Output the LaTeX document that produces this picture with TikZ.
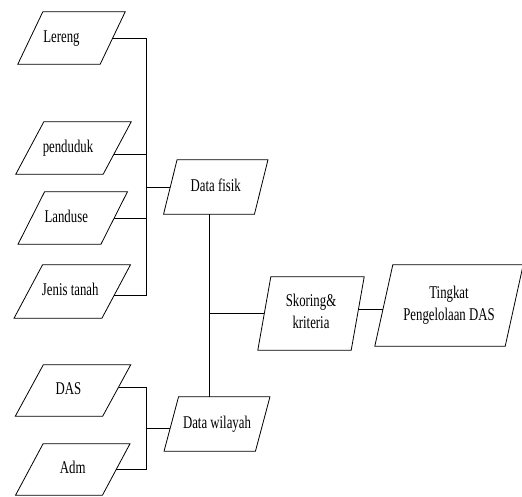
\documentclass[tikz,border=0pt]{standalone}
\usepackage{graphicx}
\usepackage{fontspec}
\setmainfont{Liberation Serif}
\usetikzlibrary{calc}
\newcommand\paraTxt[1]{\scalebox{1}[1.4]{\begin{tabular}{@{}c@{}}#1\end{tabular}}}
\newcommand\drawPara[2]{\draw[shapeline] ([xshift=#2pt/2]#1.north west) -- ([xshift=#2pt/2]#1.north east) -- ([xshift=-#2pt/2]#1.south east) -- ([xshift=-#2pt/2]#1.south west) -- cycle;}
\tikzset{
  box/.style={draw=none, inner sep=0pt, font=\fontsize{12.8}{15.7}\selectfont},
  shapeline/.style={line width=0.8pt, line join=miter},
  conn/.style={line width=0.8pt}
}
\begin{document}
\begin{tikzpicture}[x=1pt,y=-1pt]
\useasboundingbox (0,0) rectangle (522,496);
% left input boxes
\node[box, minimum width=82pt, minimum height=52pt] (ler) at (71.5,38) {\paraTxt{Lereng\hspace*{20pt}}};
\node[box, minimum width=87pt, minimum height=52pt] (pen) at (73.5,148) {\paraTxt{penduduk\hspace*{11pt}}};
\node[box, minimum width=82.5pt, minimum height=52pt] (lan) at (72.75,218) {\paraTxt{Landuse\hspace*{13pt}}};
\node[box, minimum width=87.5pt, minimum height=53pt] (jen) at (72.25,291.5) {\paraTxt{Jenis tanah\hspace*{4pt}}};
\node[box, minimum width=87pt, minimum height=51pt] (das) at (73,390.5) {\paraTxt{DAS\hspace*{9pt}}};
\node[box, minimum width=86.5pt, minimum height=51pt] (adm) at (72.75,469.5) {\paraTxt{Adm}};
% middle boxes
\node[box, minimum width=90.5pt, minimum height=54pt] (fis) at (215.75,187) {\paraTxt{Data fisik}};
\node[box, minimum width=91pt, minimum height=54pt] (wil) at (217,424) {\paraTxt{Data wilayah}};
\node[box, minimum width=93pt, minimum height=73pt] (sk) at (311,313.5) {\paraTxt{Skoring\&\\kriteria}};
\node[box, minimum width=130pt, minimum height=81pt] (tin) at (449,305.5) {\paraTxt{Tingkat\\Pengelolaan DAS}};
% outlines
\drawPara{ler}{25}
\drawPara{pen}{28}
\drawPara{lan}{26.5}
\drawPara{jen}{28.5}
\drawPara{das}{28}
\drawPara{adm}{27.5}
\drawPara{fis}{13.5}
\drawPara{wil}{14.5}
\drawPara{sk}{13}
\drawPara{tin}{18}
% connection points
\coordinate (sx) at (146,0);
\coordinate (penR) at ([xshift=-3.2pt,yshift=-6pt]pen.east);
\coordinate (jenR) at ([xshift=-1.9pt,yshift=-3.5pt]jen.east);
\coordinate (dasR) at ([xshift=1.9pt,yshift=3.5pt]das.east);
\coordinate (wilL) at ([xshift=-1.1pt,yshift=-4pt]wil.west);
\coordinate (fisB) at ([xshift=-6.75pt]fis.south);
\coordinate (skR) at ([xshift=0.7pt,yshift=4pt]sk.east);
\coordinate (tinL) at ([xshift=-0.9pt,yshift=-4pt]tin.west);
% connectors
\draw[conn] (ler.east) -- (ler.east -| sx) -- (jenR -| sx) -- (jenR);
\draw[conn] (penR) -- (penR -| sx);
\draw[conn] (lan.east) -- (lan.east -| sx);
\draw[conn] (fis.west -| sx) -- (fis.west);
\draw[conn] (fisB) -- (fisB |- wil.north);
\draw[conn] (sk.west -| fisB) -- (sk.west);
\draw[conn] (skR) -- (tinL);
\draw[conn] (dasR) -- (dasR -| sx) -- (adm.east -| sx) -- (adm.east);
\draw[conn] (wilL -| sx) -- (wilL);
\end{tikzpicture}
\end{document}
